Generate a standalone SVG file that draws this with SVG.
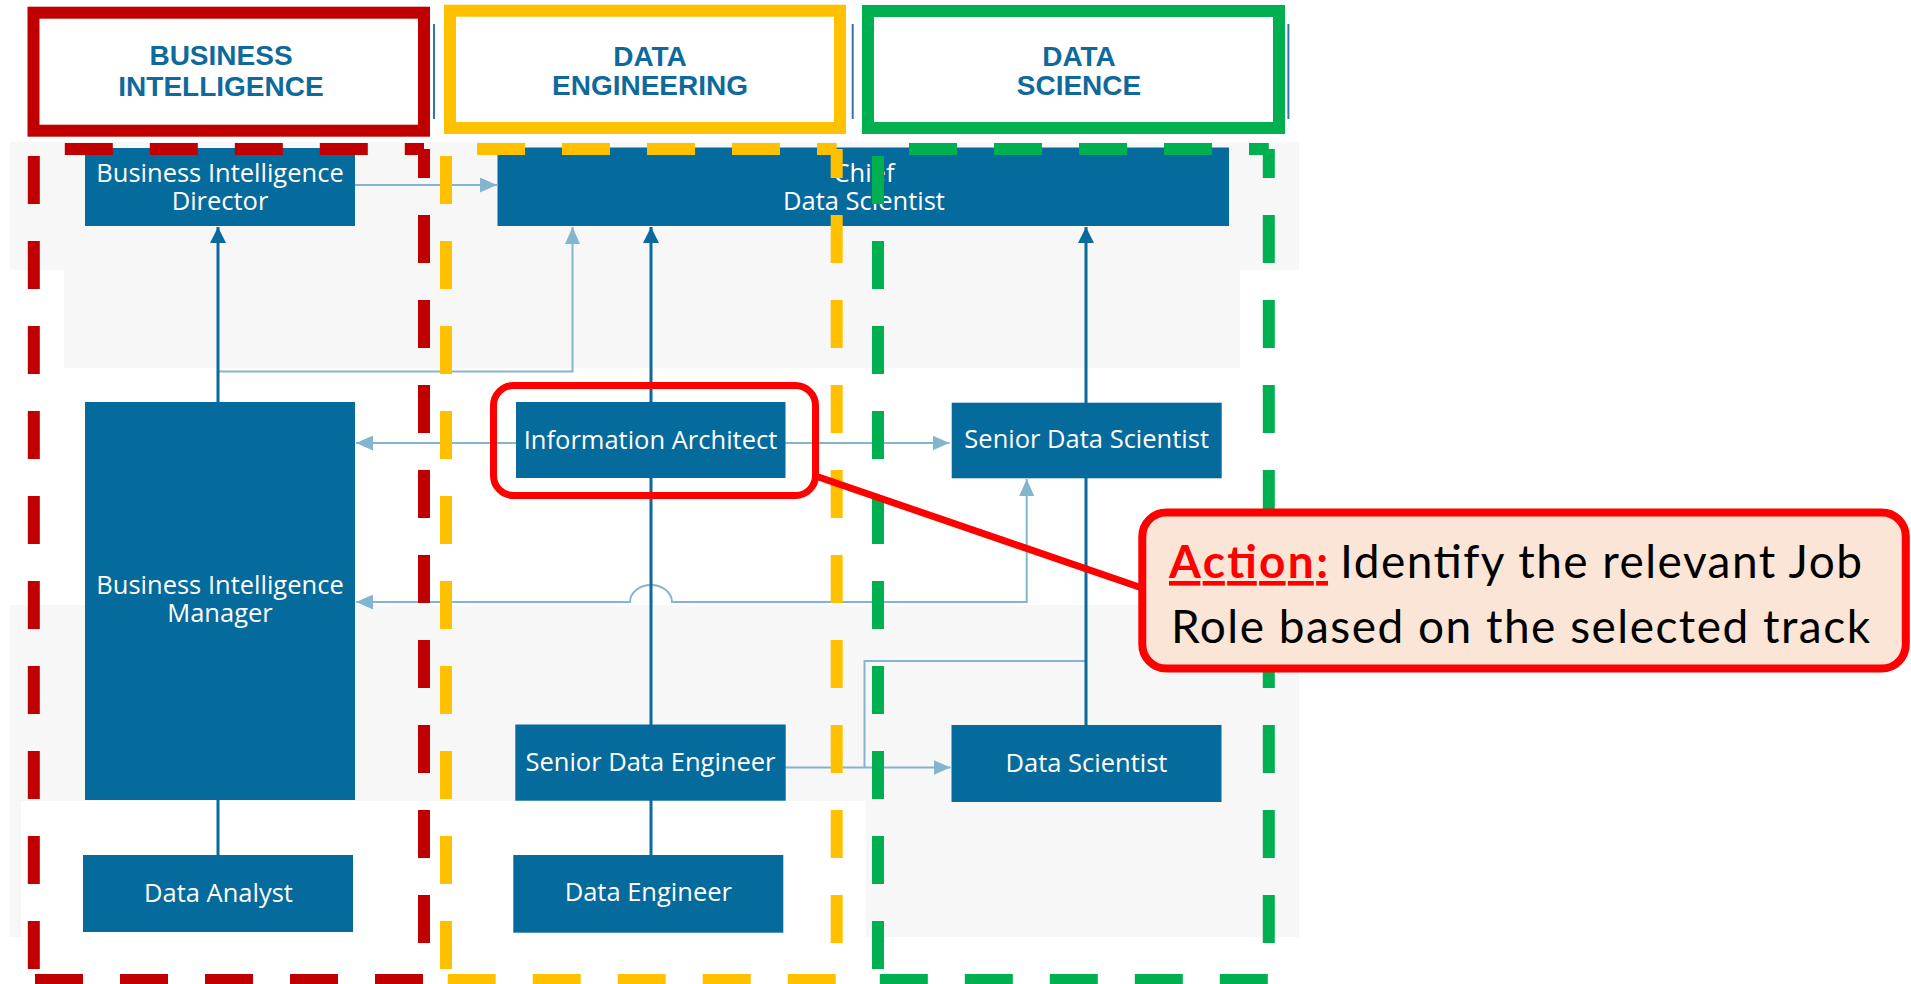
<svg xmlns="http://www.w3.org/2000/svg" width="1911" height="984" viewBox="0 0 1911 984">
<defs>
<style>
.bg{fill:#f7f7f7}
.hdr{fill:#ffffff;stroke-width:12}
.htxt{font-family:"Liberation Sans",Arial,sans-serif;font-weight:bold;font-size:28px;fill:#0f6a9b;text-anchor:middle}
.sep{stroke:#2f79a8;stroke-width:2}
.node rect{fill:#056a9c}
.node text{font-family:"Open Sans","Noto Sans",sans-serif;font-size:25.5px;fill:#ffffff;text-anchor:middle}
.lt{fill:none;stroke:#84b5ce;stroke-width:2}
.dk{fill:none;stroke:#0b6a9c;stroke-width:3}
.lane line{stroke-width:12;stroke-dasharray:48 37;fill:none;stroke-linecap:butt}
.lane .t{stroke-dashoffset:54}
.lane .r{stroke-dashoffset:19}
.lane .b{stroke-dashoffset:84}
.lane .l{stroke-dashoffset:74}
.ctxt{font-family:Lato,"Open Sans",sans-serif;font-size:46px;fill:#000000}
</style>
<marker id="aL" markerUnits="userSpaceOnUse" viewBox="0 0 17 15" markerWidth="17" markerHeight="15" refX="17" refY="7.5" orient="auto-start-reverse"><path d="M0,0 L17,7.5 L0,15 z" fill="#84b5ce"/></marker>
<marker id="aD" markerUnits="userSpaceOnUse" viewBox="0 0 16 16" markerWidth="16" markerHeight="16" refX="16" refY="8" orient="auto-start-reverse"><path d="M0,0 L16,8 L0,16 z" fill="#0b6a9c"/></marker>
</defs>
<rect x="0" y="0" width="1911" height="984" fill="#ffffff"/>
<g id="background">
<rect class="bg" x="10" y="142" width="1289" height="128"/>
<rect class="bg" x="64" y="270" width="1176" height="98"/>
<rect class="bg" x="10" y="605" width="1289" height="196"/>
<rect class="bg" x="10" y="800" width="11" height="137"/>
<rect class="bg" x="865.5" y="800" width="433.5" height="137"/>
</g>
<g id="headers">
<g id="hdr-bi">
<rect class="hdr" x="33.5" y="12.7" width="390.5" height="118" stroke="#c00000"/>
<text class="htxt" x="221" y="65">BUSINESS</text>
<text class="htxt" x="221" y="96">INTELLIGENCE</text>
</g>
<g id="hdr-de">
<rect class="hdr" x="450" y="10.7" width="390" height="117.3" stroke="#ffc000"/>
<text class="htxt" x="650" y="65.5">DATA</text>
<text class="htxt" x="650" y="95">ENGINEERING</text>
</g>
<g id="hdr-ds">
<rect class="hdr" x="868" y="11" width="411" height="117" stroke="#00b050"/>
<text class="htxt" x="1079" y="65.5">DATA</text>
<text class="htxt" x="1079" y="95">SCIENCE</text>
</g>
<line class="sep" x1="434" y1="24" x2="434" y2="119"/>
<line class="sep" x1="852.7" y1="24" x2="852.7" y2="119"/>
<line class="sep" x1="1288.4" y1="24" x2="1288.4" y2="119"/>
</g>
<g id="connectors">
<path class="lt" d="M355,185 H497" marker-end="url(#aL)"/>
<path class="lt" d="M218,371.5 H572.5 V227" marker-end="url(#aL)"/>
<path class="lt" d="M516,443 H356" marker-end="url(#aL)"/>
<path class="lt" d="M785,443 H949.5" marker-end="url(#aL)"/>
<path class="lt" d="M356,602 H630 A21,17 0 0 1 672,602 H1026.7 V479" marker-start="url(#aL)" marker-end="url(#aL)"/>
<path class="lt" d="M785.5,767.5 H950.5" marker-end="url(#aL)"/>
<path class="lt" d="M1086,661 H864.5 V767.5"/>
<path class="dk" d="M218,402 V227" marker-end="url(#aD)"/>
<path class="dk" d="M218,800 V855"/>
<path class="dk" d="M651,855 V800"/>
<path class="dk" d="M651,725 V227" marker-end="url(#aD)"/>
<path class="dk" d="M1086,725 V227" marker-end="url(#aD)"/>
</g>
<g id="n-bi-director" class="node">
<rect x="85" y="148" width="270" height="78"/>
<text x="220" y="182">Business Intelligence</text>
<text x="220" y="210">Director</text>
</g>
<g id="n-chief" class="node">
<rect x="497.5" y="147.5" width="731.5" height="78.5"/>
<text x="864" y="182">Chief</text>
<text x="864" y="210">Data Scientist</text>
</g>
<g id="n-bi-manager" class="node">
<rect x="85" y="402" width="270" height="398"/>
<text x="220" y="594">Business Intelligence</text>
<text x="220" y="622">Manager</text>
</g>
<g id="n-data-analyst" class="node">
<rect x="83" y="855" width="270" height="77"/>
<text x="218.5" y="902">Data Analyst</text>
</g>
<g id="n-info-architect" class="node">
<rect x="516" y="402" width="269.5" height="76"/>
<text x="650.5" y="449">Information Architect</text>
</g>
<g id="n-senior-ds" class="node">
<rect x="951.7" y="402.7" width="270" height="75.6"/>
<text x="1086.7" y="448">Senior Data Scientist</text>
</g>
<g id="n-senior-de" class="node">
<rect x="515.3" y="724.5" width="270.4" height="76.2"/>
<text x="650.5" y="771">Senior Data Engineer</text>
</g>
<g id="n-data-engineer" class="node">
<rect x="513.3" y="855" width="270" height="77.7"/>
<text x="648.3" y="901">Data Engineer</text>
</g>
<g id="n-data-scientist" class="node">
<rect x="951.5" y="725" width="270" height="77"/>
<text x="1086.5" y="772">Data Scientist</text>
</g>
<g id="lane-bi" class="lane" stroke="#c00000">
<line class="t" x1="33.8" y1="149" x2="424" y2="149"/>
<line class="r" x1="424" y1="149" x2="424" y2="980"/>
<line class="b" x1="424" y1="980" x2="33.8" y2="980"/>
<line class="l" x1="33.8" y1="980" x2="33.8" y2="149"/>
</g>
<g id="lane-de" class="lane" stroke="#ffc000">
<line class="t" x1="446" y1="149" x2="836.7" y2="149"/>
<line class="r" x1="836.7" y1="149" x2="836.7" y2="980"/>
<line class="b" x1="836.7" y1="980" x2="446" y2="980"/>
<line class="l" x1="446" y1="980" x2="446" y2="149"/>
</g>
<g id="lane-ds" class="lane" stroke="#00b050">
<line class="t" x1="878" y1="149" x2="1268.8" y2="149"/>
<line class="r" x1="1268.8" y1="149" x2="1268.8" y2="980"/>
<line class="b" x1="1268.8" y1="980" x2="878" y2="980"/>
<line class="l" x1="878" y1="980" x2="878" y2="149"/>
</g>
<g id="annotation">
<rect x="493.5" y="385.5" width="322" height="110" rx="20" ry="20" fill="none" stroke="#ff0000" stroke-width="7"/>
<line x1="814" y1="475.5" x2="1142" y2="588" stroke="#ff0000" stroke-width="7"/>
<g id="callout">
<rect x="1142.3" y="512.5" width="763.5" height="156" rx="24" ry="24" fill="#fbe5d6" stroke="#ff0000" stroke-width="8"/>
<text class="ctxt" x="1169" y="578" font-weight="bold" fill="#ff0000" style="fill:#ff0000" text-decoration="underline" textLength="159">Action:</text>
<text class="ctxt" x="1340" y="578" textLength="522">Identify the relevant Job</text>
<text class="ctxt" x="1171" y="643" textLength="699">Role based on the selected track</text>
</g>
</g>
</svg>
